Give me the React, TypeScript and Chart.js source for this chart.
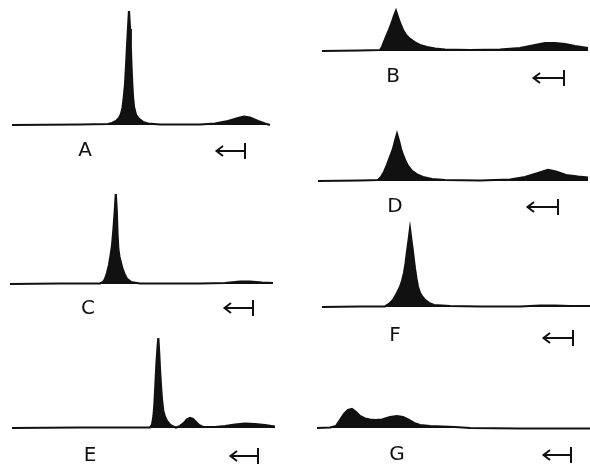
import React, { useEffect, useRef } from "react";
import { Chart, registerables } from "chart.js";

Chart.register(...registerables);

type Pt = [number, number];

// Traces: [distance along chart, detector response]
const traceA: Pt[] = [[2,0],[70,0.5],[98,1],[102,2],[106,4],[109,7],[111,11],[112.5,17],[113.5,25],[115,40],[116,58],[117,78],[118,96],[119,114],[120,96],[120.8,78],[121.5,58],[122.3,40],[123,28],[124,18],[126,10],[129,6],[133,3],[138,1.5],[150,0.5],[190,0.5],[205,1.5],[218,4],[228,7],[234,8.5],[240,7.5],[248,4],[255,1.5],[260,0]];
const traceB: Pt[] = [[5,0],[43,0.5],[63,1],[65,4],[67,9],[69,14],[72,21],[75,29],[77,35],[79,40],[81,34],[83,28],[86,21],[89,16],[93,12],[98,8.5],[103,6],[110,4],[118,2.5],[128,1.5],[153,1],[183,1.5],[203,3],[218,6],[228,8],[238,8],[248,7],[258,5],[271,3]];
const traceC: Pt[] = [[0,0],[50,0.5],[90,0.5],[93,2],[95,5],[97,11],[99,19],[100.5,28],[102,38],[103.5,55],[104.7,72],[105.8,90],[106.8,72],[107.5,50],[108.3,35],[109.5,27],[111,21],[112.5,15],[114.5,10],[117,5],[121,2],[130,0.5],[190,0.5],[215,1],[230,2.5],[240,2.5],[252,1.5],[263,1]];
const traceD: Pt[] = [[1,0],[43,0.5],[61,1],[64,4],[67,9],[70,16],[73,24],[76,32],[78,40],[80,47],[82,40],[84,32],[86,26],[88,21],[91,15],[95,10],[100,6.5],[106,4],[115,2],[128,1],[163,0.5],[193,1.5],[208,4],[221,8],[231,11],[239,9.5],[249,6],[261,4.5],[271,3.5]];
const traceE: Pt[] = [[2,0],[70,0.5],[140,0.5],[142,3],[143.5,12],[144.5,25],[145.5,45],[146.5,65],[147.5,80],[148.3,90],[149.2,75],[150,58],[151,42],[152,28],[153.3,17],[155,11],[157,7],[159.5,4],[162,2],[166,0.5],[170,2],[174,5],[177,8.5],[180,10],[183,9],[186,6],[189,3],[193,1],[205,1],[215,2],[225,3.5],[235,4.5],[245,4],[255,3],[265,1.5]];
const traceF: Pt[] = [[5,0],[43,0.5],[68,0.5],[72,3],[76,7],[80,14],[83,20],[85,26],[87,34],[88.5,43],[90,55],[91.5,66],[93,78],[94.5,66],[95.7,57],[97,46],[98,38],[99.5,28],[101,20],[103,14],[105.5,10],[108,7],[112,4],[117,2],[133,1],[163,0.5],[203,0.5],[223,1.5],[238,1.5],[253,1],[273,1]];
const traceG: Pt[] = [[0,0],[13,0.5],[19,2],[23,8],[27,14],[31,18],[35,19],[39,16],[43,12],[48,9.5],[53,8.5],[58,8],[65,8.5],[73,11],[80,12],[86,11],[92,8],[97,5],[103,3],[113,2],[138,1],[153,0],[203,-0.5],[273,-0.5]];

const panelNames = ["A", "B", "C", "D", "E", "F", "G"];
const traces = [traceA, traceB, traceC, traceD, traceE, traceF, traceG];
const labelX = [75, 76, 78, 78, 80, 78, 80];
const arrowHeadX = [206, 216, 214, 210, 220, 226, 226];
const arrowBarX = [235, 247, 243, 241, 248, 256, 254];

// Layout (pixels)
const layout = [
  { left: 10, top: 5, width: 265, base: 125, labelDy: 26, arrowDy: 26 },
  { left: 317, top: 5, width: 273, base: 51, labelDy: 26, arrowDy: 27 },
  { left: 10, top: 185, width: 265, base: 284, labelDy: 25, arrowDy: 24 },
  { left: 317, top: 125, width: 273, base: 181, labelDy: 26, arrowDy: 26 },
  { left: 10, top: 333, width: 265, base: 428, labelDy: 28, arrowDy: 28 },
  { left: 317, top: 222, width: 273, base: 307, labelDy: 29, arrowDy: 31 },
  { left: 317, top: 395, width: 273, base: 428, labelDy: 27, arrowDy: 27 },
];

const BELOW = 3;
const LABEL_SPACE = 36;
const INK = "#111";

const annotPlugin = {
  id: "annot",
  afterDraw(chart: any, _args: any, opts: any) {
    const { ctx } = chart;
    const xs = chart.scales.x;
    const ys = chart.scales.y;
    const base = ys.getPixelForValue(0);
    ctx.save();
    ctx.fillStyle = INK;
    ctx.strokeStyle = INK;
    ctx.font = '20px "DejaVu Sans", sans-serif';
    ctx.textAlign = "center";
    ctx.textBaseline = "middle";
    ctx.fillText(opts.label, xs.getPixelForValue(opts.labelX), base + opts.labelDy);
    const ay = base + opts.arrowDy;
    const x1 = xs.getPixelForValue(opts.arrowHead);
    const x2 = xs.getPixelForValue(opts.arrowBar);
    ctx.lineWidth = 2;
    ctx.lineCap = "butt";
    ctx.beginPath();
    ctx.moveTo(x1, ay);
    ctx.lineTo(x2, ay);
    ctx.stroke();
    ctx.beginPath();
    ctx.moveTo(x1 + 7, ay - 5);
    ctx.lineTo(x1 + 0.5, ay);
    ctx.lineTo(x1 + 7, ay + 5);
    ctx.stroke();
    ctx.beginPath();
    ctx.moveTo(x2, ay - 8);
    ctx.lineTo(x2, ay + 8);
    ctx.stroke();
    ctx.restore();
  },
};

function Panel({ idx }: { idx: number }) {
  const ref = useRef<HTMLCanvasElement | null>(null);
  const L = layout[idx];
  const yMax = L.base - L.top;
  const h = yMax + BELOW + LABEL_SPACE;
  useEffect(() => {
    if (!ref.current) return;
    const data = traces[idx].map(([x, y]) => ({ x, y }));
    const chart = new Chart(ref.current, {
      type: "line",
      data: {
        datasets: [
          {
            data,
            borderColor: INK,
            backgroundColor: INK,
            borderWidth: 2.2,
            pointRadius: 0,
            tension: 0,
            fill: "origin",
          },
        ],
      },
      options: {
        animation: false,
        responsive: false,
        devicePixelRatio: 1,
        layout: { padding: { top: 0, left: 0, right: 0, bottom: LABEL_SPACE } },
        scales: {
          x: { type: "linear", min: 0, max: L.width, display: false },
          y: { type: "linear", min: -BELOW, max: yMax, display: false },
        },
        plugins: {
          legend: { display: false },
          tooltip: { enabled: false },
          annot: {
            label: panelNames[idx],
            labelX: labelX[idx],
            arrowHead: arrowHeadX[idx],
            arrowBar: arrowBarX[idx],
            labelDy: L.labelDy,
            arrowDy: L.arrowDy,
          },
        } as any,
      },
      plugins: [annotPlugin],
    });
    return () => chart.destroy();
  }, [idx]);
  return (
    <canvas
      ref={ref}
      width={L.width}
      height={h}
      style={{ position: "absolute", left: L.left, top: L.top, width: L.width, height: h }}
    />
  );
}

export default function App() {
  return (
    <div
      style={{
        position: "fixed",
        left: 0,
        top: 0,
        width: 590,
        height: 467,
        overflow: "hidden",
        background: "#fff",
      }}
    >
      {panelNames.map((_, i) => (
        <Panel key={i} idx={i} />
      ))}
    </div>
  );
}
